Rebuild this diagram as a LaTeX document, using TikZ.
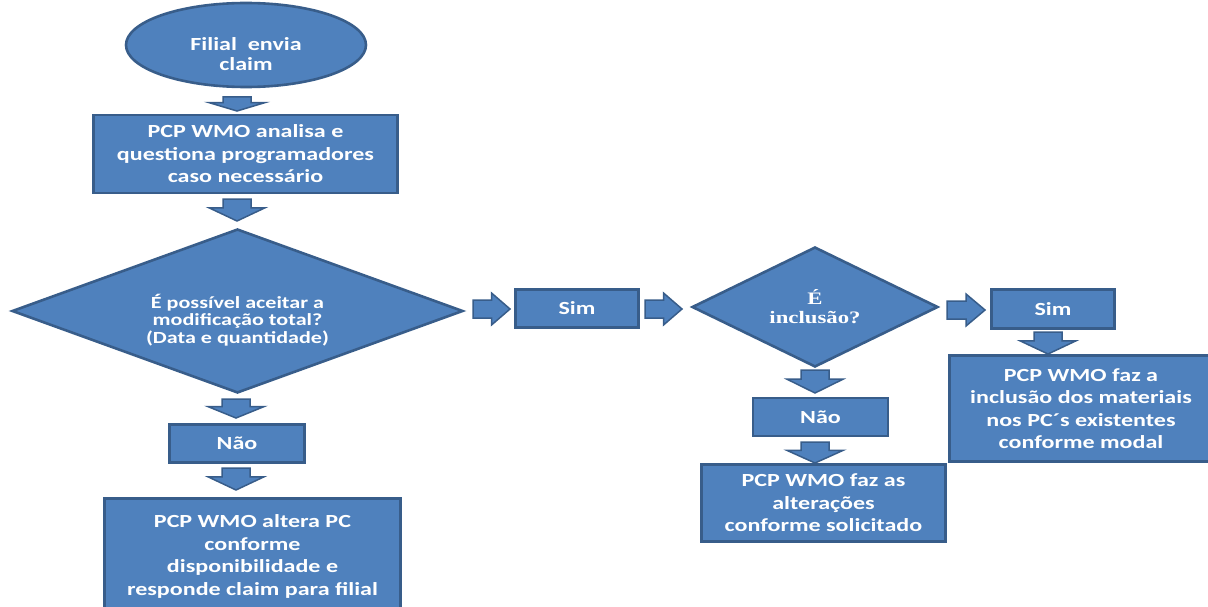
\documentclass[tikz,border=0pt]{standalone}
\usepackage{fontspec}
\setmainfont{Carlito}[FakeStretch=1.3]
\newfontfamily\timesbox{Liberation Serif}[FakeStretch=1.3]
\usetikzlibrary{shapes.geometric}
\definecolor{boxfill}{HTML}{4F81BD}
\definecolor{boxline}{HTML}{385D8A}

\tikzset{
  base/.style={draw=boxline, line width=2.6pt, fill=boxfill, text=white,
    align=center, inner sep=0pt},
  stepbox/.style={base, rectangle, font=\bfseries\fontsize{18.5}{22.5}\selectfont},
  choice/.style={base, diamond, aspect=2.75},
  lbl/.style={text=white, align=center, inner sep=0pt},
  blk/.style={draw=boxline, line width=1.5pt, fill=boxfill, line join=miter},
}

% block arrow pointing down: centre x, top y, tip y
\newcommand\dnarrow[3]{%
  \draw[blk] ({#1-14},#2) -- ({#1+14},#2) -- ({#1+14},{#2+0.4*(#3-#2)})
    -- ({#1+28},{#2+0.4*(#3-#2)}) -- (#1,#3) -- ({#1-28},{#2+0.4*(#3-#2)})
    -- ({#1-14},{#2+0.4*(#3-#2)}) -- cycle;}
% block arrow pointing right: tail x, tip x, centre y
\newcommand\rtarrow[3]{%
  \draw[blk] (#1,{#3-9}) -- ({#1+0.5*(#2-#1)},{#3-9}) -- ({#1+0.5*(#2-#1)},{#3-16})
    -- (#2,#3) -- ({#1+0.5*(#2-#1)},{#3+16}) -- ({#1+0.5*(#2-#1)},{#3+9})
    -- (#1,{#3+9}) -- cycle;}

\begin{document}
\begin{tikzpicture}[x=1pt,y=-1pt]
\useasboundingbox (0,0) rectangle (1208,607);
\fill[white] (0,0) rectangle (1208,607);
\clip (0,0) rectangle (1208,607);

% start
\node[base, ellipse, minimum width=240pt, minimum height=84pt,
  label={[lbl, yshift=-9pt, font=\bfseries\fontsize{18.5}{20}\selectfont]center:{Filial\ \ envia\\claim}}]
  (start) at (246,45) {};

% analysis
\node[stepbox, minimum width=304pt, minimum height=78pt] (analisa) at (245.5,154)
  {PCP WMO analisa e\\questiona programadores\\caso necessário};

% first decision
\node[choice, minimum width=451pt, minimum height=164pt,
  label={[lbl, yshift=-9pt, font=\bfseries\fontsize{17}{17.5}\selectfont]center:{É possível aceitar a\\modificação total?\\(Data e quantidade)}}]
  (total) at (237.5,311) {};

\node[stepbox, minimum width=123pt, minimum height=38pt] (sim1) at (577,308.5) {Sim};

% second decision
\node[choice, minimum width=246pt, minimum height=120pt,
  font=\timesbox\bfseries\fontsize{17.5}{19}\selectfont] (inclusao) at (815,307)
  {É\\inclusão?};

\node[stepbox, minimum width=123pt, minimum height=39pt] (sim2) at (1053,309) {Sim};
\node[stepbox, minimum width=263pt, minimum height=106pt] (incluir) at (1081,408.5)
  {PCP WMO faz a\\inclusão dos materiais\\nos PC´s existentes\\conforme modal};

\node[stepbox, minimum width=135pt, minimum height=38pt] (nao2) at (820.5,417) {Não};
\node[stepbox, minimum width=244pt, minimum height=77pt] (alterar) at (823.5,503)
  {PCP WMO faz as\\alterações\\conforme solicitado};

\node[stepbox, minimum width=135pt, minimum height=38pt] (nao1) at (237,443.5) {Não};
\node[stepbox, minimum width=296pt, minimum height=116pt] (responde) at (252.5,556.5)
  {PCP WMO altera PC\\conforme\\disponibilidade e\\responde claim para filial};

% block arrows between the steps
\dnarrow{237}{97}{111}
\dnarrow{237}{199}{221}
\dnarrow{236}{399}{418}
\dnarrow{236}{468}{490}
\dnarrow{815}{370}{393}
\dnarrow{815}{442}{463}
\dnarrow{1048}{332}{354}
\rtarrow{473}{510}{309}
\rtarrow{645}{682}{309}
\rtarrow{947}{985}{310}
\end{tikzpicture}
\end{document}
